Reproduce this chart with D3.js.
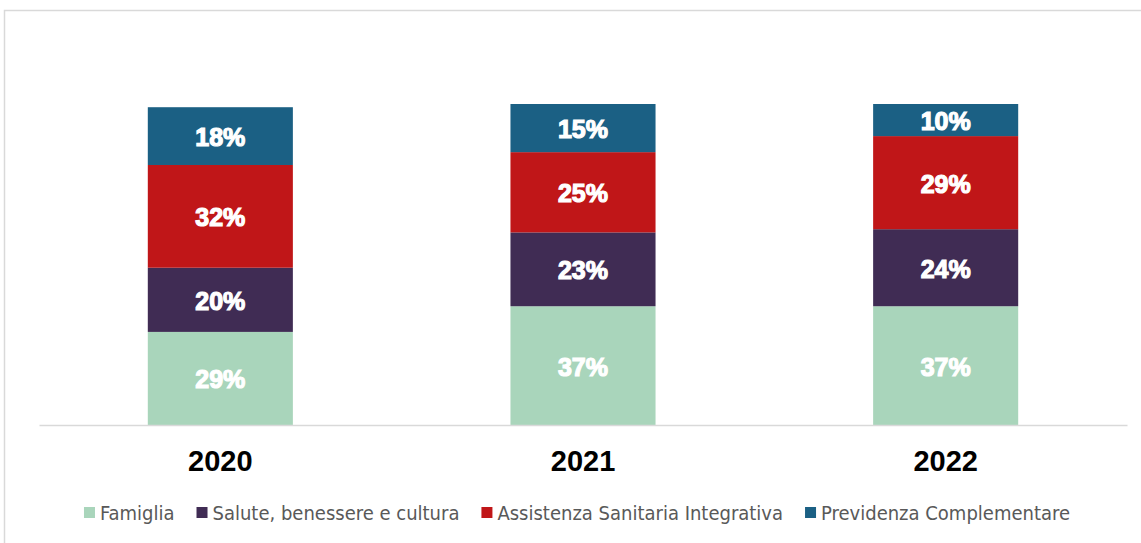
<!DOCTYPE html>
<html>
<head>
<meta charset="utf-8">
<script src="https://cdn.jsdelivr.net/npm/d3@7"></script>
<style>
  body { margin: 0; background: #fff; }
  svg { display: block; }
</style>
</head>
<body>
<div id="mount"></div>
<script>
var WIDTH = 1141;
var HEIGHT = 543;

var years = ['2020', '2021', '2022'];
var seriesNames = ['Famiglia', 'Salute, benessere e cultura', 'Assistenza Sanitaria Integrativa', 'Previdenza Complementare'];
var famiglia = [29, 37, 37];
var salute = [20, 23, 24];
var assistenza = [32, 25, 29];
var previdenza = [18, 15, 10];
var colors = ['#a9d5bb', '#402c54', '#c01618', '#1b6084'];

document.addEventListener('DOMContentLoaded', function () {
  var values = [famiglia, salute, assistenza, previdenza];
  var table = years.map(function (y, i) {
    var row = { year: y };
    seriesNames.forEach(function (name, k) { row[name] = values[k][i]; });
    return row;
  });
  var stacked = d3.stack().keys(seriesNames)(table);

  var x = d3.scaleBand()
    .domain(years)
    .range([39, 1127])
    .paddingInner(0.6)
    .paddingOuter(0.3);

  var y = d3.scaleLinear()
    .domain([0, 100])
    .range([425, 104]);

  var $svg = d3.select('#mount')
    .append('svg')
    .attr('width', WIDTH)
    .attr('height', HEIGHT);

  // outer frame, runs off the right and bottom edges like the source
  $svg.append('rect')
    .attr('x', 4.5)
    .attr('y', 10.5)
    .attr('width', WIDTH + 10)
    .attr('height', HEIGHT + 10)
    .attr('fill', 'none')
    .attr('stroke', '#d9d9d9')
    .attr('stroke-width', 1.5);

  var $layers = $svg.selectAll('g.layer')
    .data(stacked)
    .enter()
    .append('g')
    .attr('class', 'layer')
    .attr('fill', function (d, i) { return colors[i]; });

  $layers.selectAll('rect')
    .data(function (d) { return d; })
    .enter()
    .append('rect')
    .attr('x', function (d) { return x(d.data.year); })
    .attr('width', x.bandwidth())
    .attr('y', function (d) { return y(d[1]); })
    .attr('height', function (d) { return y(d[0]) - y(d[1]); });

  $layers.selectAll('text')
    .data(function (d) { return d.map(function (p) { return { p: p, v: p.data[d.key] }; }); })
    .enter()
    .append('text')
    .attr('x', function (d) { return x(d.p.data.year) + x.bandwidth() / 2; })
    .attr('y', function (d) { return (y(d.p[0]) + y(d.p[1])) / 2 + 1; })
    .attr('text-anchor', 'middle')
    .attr('dominant-baseline', 'central')
    .attr('fill', '#fff')
    .attr('stroke', '#fff')
    .attr('stroke-width', 1.2)
    .attr('font-family', '"Liberation Sans", Arial, sans-serif')
    .attr('font-weight', 'bold')
    .attr('font-size', 25)
    .text(function (d) { return d.v + '%'; });

  // baseline axis
  var xAxis = d3.axisBottom(x).tickSize(0).tickPadding(0);
  var $axis = $svg.append('g')
    .attr('transform', 'translate(0,' + y(0) + ')')
    .call(xAxis);
  $axis.select('.domain')
    .attr('stroke', '#d9d9d9')
    .attr('stroke-width', 1.5);
  $axis.selectAll('.tick text')
    .attr('dy', null)
    .attr('y', 46)
    .attr('fill', '#000')
    .attr('font-family', '"Liberation Sans", Arial, sans-serif')
    .attr('font-weight', 'bold')
    .attr('font-size', 29);

  // legend
  var $legend = $svg.append('g').attr('class', 'legend');
  var $items = $legend.selectAll('g')
    .data(seriesNames)
    .enter()
    .append('g');
  $items.append('rect')
    .attr('x', 0)
    .attr('y', -6)
    .attr('width', 11)
    .attr('height', 11)
    .attr('fill', function (d, i) { return colors[i]; });
  $items.append('text')
    .attr('x', 16)
    .attr('y', 0)
    .attr('dominant-baseline', 'central')
    .attr('fill', '#595959')
    .attr('font-family', '"DejaVu Sans Condensed", "DejaVu Sans", sans-serif')
    .attr('font-stretch', 'condensed')
    .attr('font-size', 20)
    .text(function (d) { return d; });

  var offset = 0;
  var offsets = [];
  $items.each(function () {
    var w = d3.select(this).select('text').node().getComputedTextLength();
    offsets.push(offset);
    offset += 16 + w + 22;
  });
  var total = offset - 22;
  var start = 577 - total / 2;
  $items.attr('transform', function (d, i) {
    return 'translate(' + (start + offsets[i]) + ',513)';
  });
});
</script>
</body>
</html>
